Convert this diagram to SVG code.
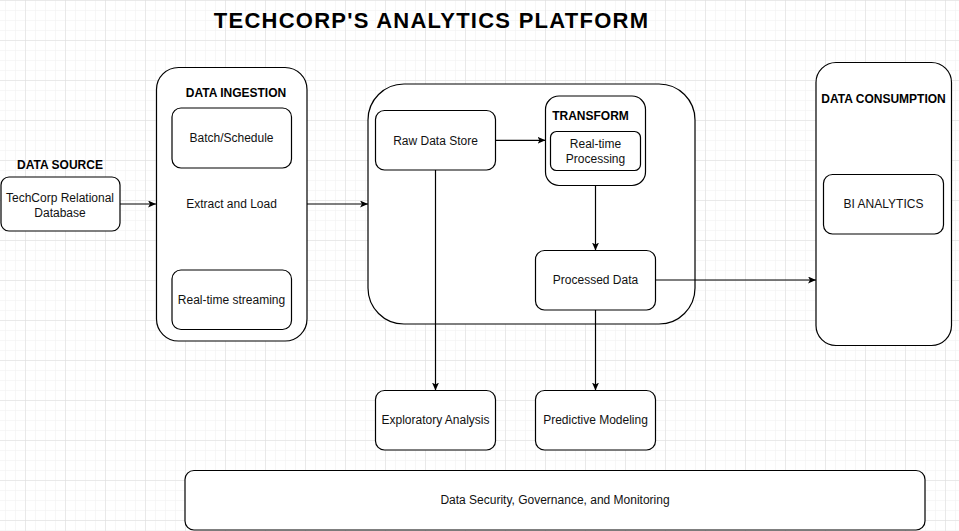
<svg xmlns="http://www.w3.org/2000/svg" width="959" height="531" viewBox="0 0 959 531">
  <style>
    .box { fill: #ffffff; stroke: #000000; stroke-width: 1.2; }
    .t { font-family: "Liberation Sans", Arial, sans-serif; font-size: 12px; fill: #111111; text-anchor: middle; }
    .b { font-family: "Liberation Sans", Arial, sans-serif; font-size: 12px; font-weight: bold; fill: #000000; text-anchor: middle; }
    .title { font-family: "Liberation Sans", Arial, sans-serif; font-size: 22px; font-weight: bold; fill: #000000; text-anchor: middle; letter-spacing: 1.25px; }
    .edge { fill: none; stroke: #000000; stroke-width: 1.2; marker-end: url(#arrow); }
  </style>
  <defs>
    <pattern id="minor" patternUnits="userSpaceOnUse" x="5" y="0" width="10" height="10">
      <path d="M0,0 V10 M0,0 H10" fill="none" stroke="#efefef" stroke-width="1"/>
    </pattern>
    <pattern id="major" patternUnits="userSpaceOnUse" x="25" y="0" width="40" height="40">
      <path d="M0,0 V40 M0,0 H40" fill="none" stroke="#dcdcdc" stroke-width="1"/>
    </pattern>
    <marker id="arrow" markerUnits="userSpaceOnUse" viewBox="0 0 8 7" refX="8" refY="3.5" markerWidth="8" markerHeight="7" orient="auto">
      <path d="M0,0 L8,3.5 L0,7 L2,3.5 Z" fill="#000000"/>
    </marker>
  </defs>

  <g id="background">
    <rect x="0" y="0" width="959" height="531" fill="#ffffff"/>
    <rect x="0" y="0" width="959" height="531" fill="url(#minor)"/>
    <rect x="0" y="0" width="959" height="531" fill="url(#major)"/>
  </g>

  <g id="title">
    <text class="title" x="431.5" y="27.7">TECHCORP'S ANALYTICS PLATFORM</text>
  </g>

  <g id="data-source">
    <text class="b" x="60" y="169">DATA SOURCE</text>
    <rect class="box" x="1" y="177" width="119" height="54" rx="8" ry="8"/>
    <text class="t" x="60" y="201.5">TechCorp Relational</text>
    <text class="t" x="60" y="216.5">Database</text>
  </g>

  <g id="data-ingestion">
    <rect class="box" x="156.5" y="67.5" width="150.5" height="273.5" rx="22" ry="22"/>
    <text class="b" x="236" y="97">DATA INGESTION</text>
  </g>
  <g id="batch-schedule">
    <rect class="box" x="172" y="108" width="119.5" height="60" rx="9" ry="9"/>
    <text class="t" x="231.5" y="142">Batch/Schedule</text>
  </g>
  <g id="extract-load">
    <text class="t" x="231.5" y="208">Extract and Load</text>
  </g>
  <g id="realtime-streaming">
    <rect class="box" x="172" y="270" width="119.5" height="59.5" rx="9" ry="9"/>
    <text class="t" x="231.5" y="303.5">Real-time streaming</text>
  </g>

  <g id="processing-container">
    <rect class="box" x="368" y="84" width="327" height="240" rx="36" ry="36"/>
  </g>
  <g id="raw-data-store">
    <rect class="box" x="375.5" y="110.5" width="120" height="59.5" rx="9" ry="9"/>
    <text class="t" x="435.5" y="144.5">Raw Data Store</text>
  </g>
  <g id="transform">
    <rect class="box" x="545.5" y="96" width="100" height="89.5" rx="13.5" ry="13.5"/>
    <text class="b" x="590.5" y="120">TRANSFORM</text>
  </g>
  <g id="realtime-processing">
    <rect class="box" x="550.5" y="131.5" width="90" height="39" rx="6" ry="6"/>
    <text class="t" x="595.5" y="148">Real-time</text>
    <text class="t" x="595.5" y="162.5">Processing</text>
  </g>
  <g id="processed-data">
    <rect class="box" x="535.5" y="250.5" width="120" height="59.5" rx="9" ry="9"/>
    <text class="t" x="595.5" y="283.5">Processed Data</text>
  </g>

  <g id="data-consumption">
    <rect class="box" x="816" y="62.5" width="135.5" height="283" rx="20" ry="20"/>
    <text class="b" x="883.5" y="103">DATA CONSUMPTION</text>
  </g>
  <g id="bi-analytics">
    <rect class="box" x="823.5" y="174.5" width="120" height="59.5" rx="9" ry="9"/>
    <text class="t" x="883.5" y="208">BI ANALYTICS</text>
  </g>

  <g id="exploratory-analysis">
    <rect class="box" x="375.5" y="390.5" width="120" height="59.5" rx="9" ry="9"/>
    <text class="t" x="435.5" y="424">Exploratory Analysis</text>
  </g>
  <g id="predictive-modeling">
    <rect class="box" x="535.5" y="390.5" width="120" height="59.5" rx="9" ry="9"/>
    <text class="t" x="595.5" y="424">Predictive Modeling</text>
  </g>

  <g id="governance">
    <rect class="box" x="185" y="470.5" width="740" height="59.5" rx="9" ry="9"/>
    <text class="t" x="555" y="503.5">Data Security, Governance, and Monitoring</text>
  </g>

  <g id="connectors">
    <path class="edge" d="M120,204 H156"/>
    <path class="edge" d="M307,204 H368"/>
    <path class="edge" d="M495.5,140.3 H545.5"/>
    <path class="edge" d="M595.5,185.5 V250.5"/>
    <path class="edge" d="M655.5,280 H816"/>
    <path class="edge" d="M435.5,170 V390.5"/>
    <path class="edge" d="M595.5,310 V390.5"/>
  </g>
</svg>
